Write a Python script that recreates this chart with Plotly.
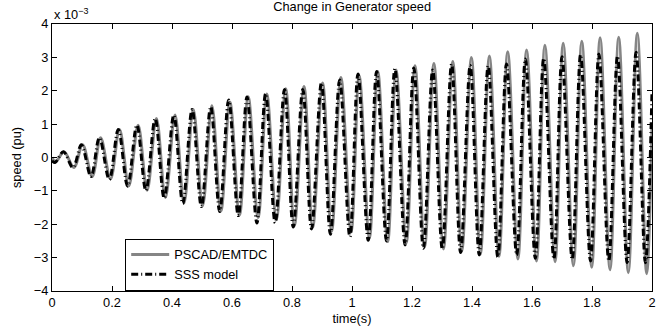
import plotly.graph_objects as go

# values in units of 1e-3 pu
pscad_t = [0.0, 0.012, 0.04, 0.073, 0.102, 0.134, 0.162, 0.195, 0.225, 0.256, 0.287, 0.317,
           0.348, 0.378, 0.41, 0.44, 0.471, 0.502, 0.533, 0.563, 0.593, 0.625, 0.654, 0.687,
           0.716, 0.748, 0.779, 0.808, 0.84, 0.869, 0.902, 0.932, 0.963, 0.997, 1.024, 1.058,
           1.086, 1.119, 1.147, 1.181, 1.21, 1.242, 1.273, 1.305, 1.336, 1.366, 1.398, 1.428,
           1.458, 1.49, 1.519, 1.553, 1.582, 1.615, 1.643, 1.677, 1.704, 1.738, 1.766, 1.799,
           1.827, 1.86, 1.889, 1.921, 1.951, 1.982, 2.0]
pscad_v = [0.0, -0.13, 0.17, -0.30, 0.38, -0.57, 0.59, -0.64, 0.84, -0.85, 0.97, -0.98,
           1.17, -1.20, 1.27, -1.36, 1.44, -1.45, 1.55, -1.60, 1.66, -1.72, 1.82, -1.80,
           1.90, -1.85, 2.06, -2.04, 2.13, -2.09, 2.23, -2.21, 2.40, -2.23, 2.45, -2.42,
           2.58, -2.52, 2.62, -2.56, 2.75, -2.68, 2.82, -2.74, 2.88, -2.80, 3.00, -2.90,
           3.04, -2.96, 3.17, -3.04, 3.22, -3.10, 3.36, -3.12, 3.42, -3.24, 3.48, -3.29,
           3.59, -3.36, 3.60, -3.45, 3.72, -3.48, 0.9]

sss_t = [0.0, 0.01, 0.038, 0.07, 0.098, 0.13, 0.158, 0.191, 0.221, 0.252, 0.283, 0.313,
         0.344, 0.374, 0.406, 0.436, 0.467, 0.498, 0.529, 0.559, 0.589, 0.621, 0.65, 0.683,
         0.712, 0.744, 0.775, 0.804, 0.836, 0.865, 0.898, 0.928, 0.959, 0.993, 1.02, 1.054,
         1.082, 1.115, 1.143, 1.177, 1.206, 1.238, 1.269, 1.301, 1.332, 1.362, 1.394, 1.424,
         1.454, 1.486, 1.515, 1.549, 1.578, 1.611, 1.639, 1.673, 1.70, 1.734, 1.762, 1.795,
         1.823, 1.856, 1.885, 1.917, 1.947, 1.978, 2.0]
sss_v = [-0.10, -0.15, 0.17, -0.30, 0.38, -0.57, 0.59, -0.66, 0.84, -0.86, 0.97, -0.99,
         1.17, -1.22, 1.27, -1.38, 1.44, -1.47, 1.52, -1.62, 1.72, -1.74, 1.81, -1.96,
         1.91, -1.96, 2.04, -2.08, 2.04, -2.14, 2.23, -2.30, 2.32, -2.38, 2.50, -2.48,
         2.58, -2.50, 2.66, -2.62, 2.68, -2.72, 2.62, -2.74, 2.80, -2.85, 2.76, -2.92,
         2.75, -2.98, 2.80, -2.92, 2.95, -3.02, 2.97, -3.04, 3.02, -3.05, 3.08, -3.10,
         3.10, -3.10, 3.04, -3.15, 3.15, -3.15, 2.0]

x_ticks = [0, 0.2, 0.4, 0.6, 0.8, 1, 1.2, 1.4, 1.6, 1.8, 2]
y_ticks = [-4, -3, -2, -1, 0, 1, 2, 3, 4]

FONT = "Liberation Sans, Arial, sans-serif"
FS = 12.8

fig = go.Figure()
fig.add_trace(go.Scatter(x=pscad_t, y=pscad_v, mode="lines", name="PSCAD/EMTDC",
                         line=dict(color="#858585", width=3, shape="spline", smoothing=1)))
fig.add_trace(go.Scatter(x=sss_t, y=sss_v, mode="lines", name="SSS model",
                         line=dict(color="black", width=3, shape="spline", smoothing=1,
                                   dash="7px,3px,1px,3px")))

axis_common = dict(showline=True, linecolor="black", linewidth=1, mirror="ticks",
                   ticks="inside", ticklen=5, tickcolor="black", showgrid=False,
                   zeroline=False, tickfont=dict(size=FS, color="black", family=FONT))
fig.update_xaxes(range=[0, 2], tickvals=x_ticks, **axis_common,
                 title=dict(text="time(s)", font=dict(size=FS, color="black", family=FONT),
                            standoff=4))
fig.update_yaxes(range=[-4, 4], tickvals=y_ticks, **axis_common,
                 title=dict(text="speed (pu)", font=dict(size=FS, color="black", family=FONT),
                            standoff=9))

fig.update_layout(
    width=672, height=335,
    margin=dict(l=52, r=20, t=24, b=38),
    paper_bgcolor="white", plot_bgcolor="white",
    font=dict(family=FONT, size=FS, color="black"),
    title=dict(text="Change in Generator speed", x=0.524, xanchor="center",
               y=0.995, yanchor="top", font=dict(size=FS, color="black", family=FONT)),
    showlegend=True,
    legend=dict(x=0.122, y=0.196, xanchor="left", yanchor="top",
                bgcolor="white", bordercolor="black", borderwidth=1,
                font=dict(size=FS, color="black", family=FONT),
                tracegroupgap=0, itemwidth=38),
    annotations=[dict(text="x 10<sup>−3</sup>", xref="paper", yref="paper",
                      x=0, y=1.0, xanchor="left", yanchor="bottom", showarrow=False,
                      font=dict(size=FS, color="black", family=FONT), yshift=0)],
)

fig.write_html("out.html")
